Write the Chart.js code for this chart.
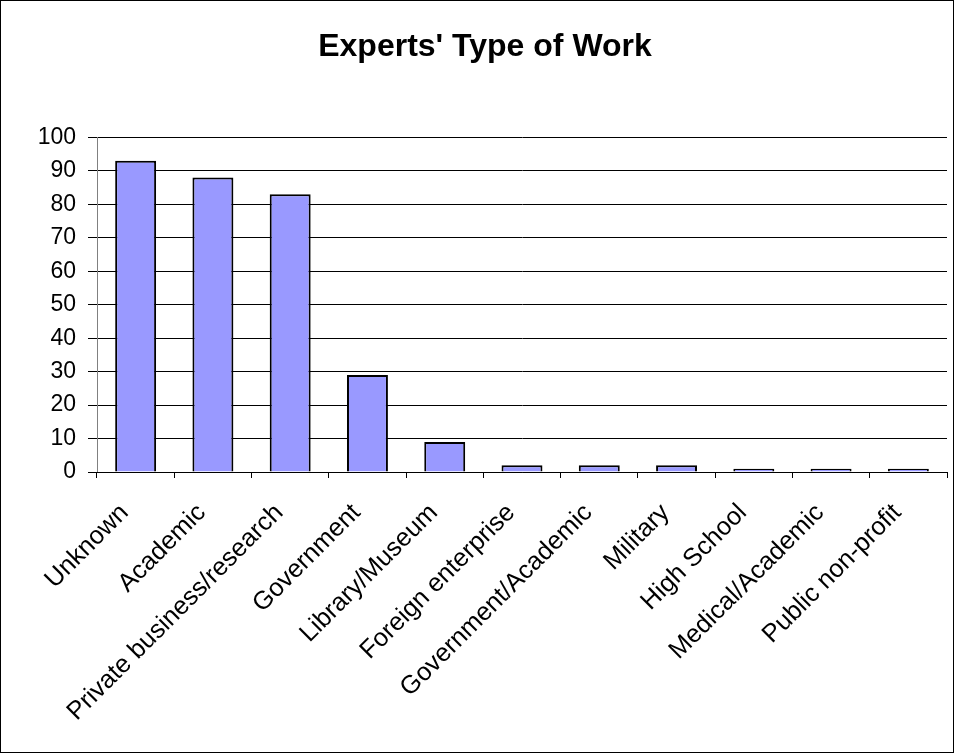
<!DOCTYPE html>
<html>
<head>
<meta charset="utf-8">
<script src="https://cdn.jsdelivr.net/npm/chart.js@4"></script>
<style>
  html, body { margin: 0; padding: 0; background: #fff; }
  #wrap { position: absolute; left: 0; top: 0; width: 952px; height: 751px; border: 1px solid #000; }
  canvas { display: block; }
</style>
</head>
<body>
<div id="wrap"><canvas id="workChart" width="952" height="751"></canvas></div>
<script>
const categories = ['Unknown', 'Academic', 'Private business/research', 'Government', 'Library/Museum',
    'Foreign enterprise', 'Government/Academic', 'Military', 'High School', 'Medical/Academic', 'Public non-profit'];
const counts = [93, 88, 83, 29, 9, 2, 2, 2, 1, 1, 1];
const yTicks = [0, 10, 20, 30, 40, 50, 60, 70, 80, 90, 100];

const font = "'Liberation Sans', Arial, sans-serif";

new Chart(document.getElementById('workChart'), {
    type: 'bar',
    data: {
        labels: categories,
        datasets: [{
            data: counts,
            backgroundColor: '#9999ff',
            borderColor: '#000',
            borderWidth: 2,
            barPercentage: 0.53,
            categoryPercentage: 1.0
        }]
    },
    options: {
        responsive: false,
        animation: false,
        layout: { padding: { top: 20, right: 6, left: 22, bottom: 0 } },
        plugins: {
            legend: { display: false },
            tooltip: { enabled: false },
            title: {
                display: true,
                text: "Experts' Type of Work",
                color: '#000',
                font: { family: font, size: 32, weight: 'bold' },
                padding: { top: 7, bottom: 71 }
            }
        },
        scales: {
            y: {
                min: 0, max: 100,
                afterBuildTicks: s => { s.ticks = yTicks.map(v => ({ value: v })); },
                afterFit: s => { s.width = 74; },
                ticks: { color: '#000', font: { family: font, size: 23 }, padding: 12 },
                grid: { color: '#000', lineWidth: 1, tickLength: 9 },
                border: { color: '#808080', width: 1 }
            },
            x: {
                afterFit: s => { s.height = 280; },
                ticks: {
                    color: '#000', font: { family: font, size: 25.5 },
                    maxRotation: 45, minRotation: 45, autoSkip: false,
                    padding: 20, labelOffset: -11
                },
                grid: { drawOnChartArea: false, color: '#000', tickLength: 6, offset: true },
                border: { color: '#000', width: 1 }
            }
        }
    }
});
</script>
</body>
</html>
